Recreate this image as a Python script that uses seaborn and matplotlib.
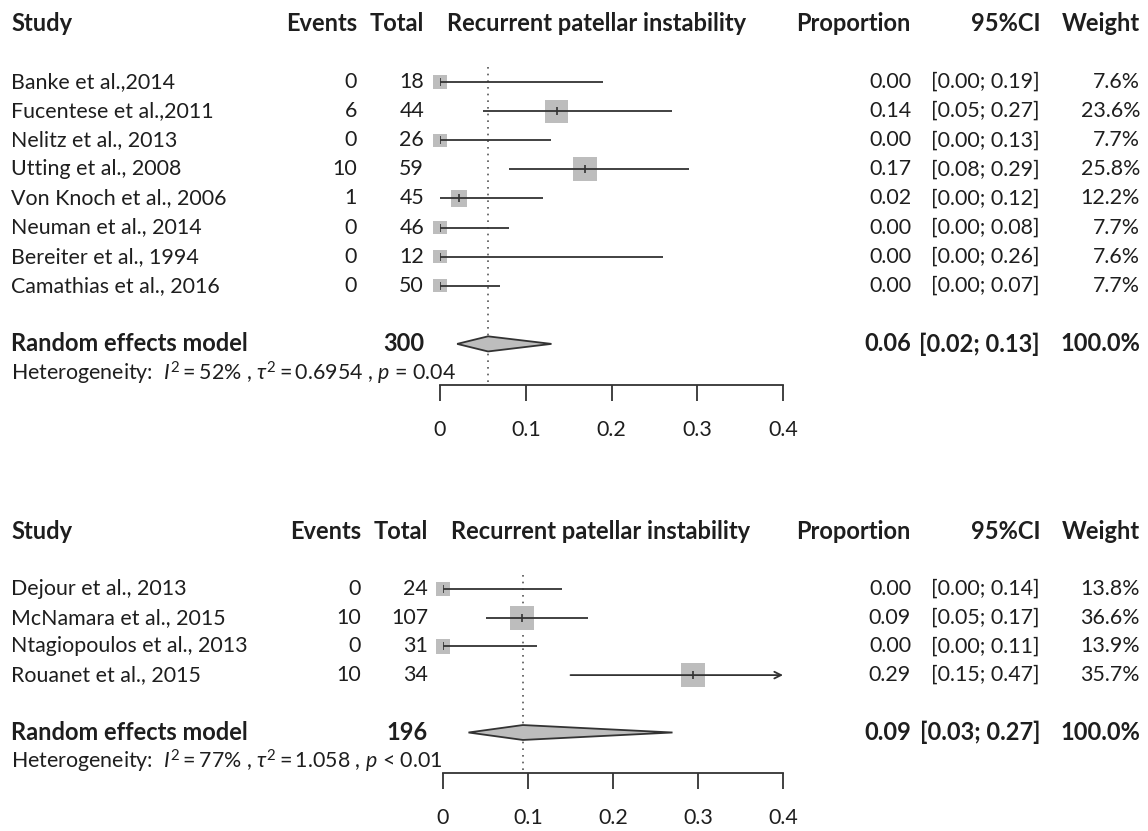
import numpy as np
import pandas as pd
import seaborn as sns
import matplotlib
matplotlib.use("Agg")
import matplotlib.pyplot as plt
from matplotlib import transforms
from matplotlib.patches import Polygon

# --- data: top panel ---
top_studies = ["Banke et al.,2014", "Fucentese et al.,2011", "Nelitz et al., 2013",
               "Utting et al., 2008", "Von Knoch et al., 2006", "Neuman et al., 2014",
               "Bereiter et al., 1994", "Camathias et al., 2016"]
top_events = [0, 6, 0, 10, 1, 0, 0, 0]
top_total = [18, 44, 26, 59, 45, 46, 12, 50]
top_prop = [0.0, 0.136, 0.0, 0.169, 0.022, 0.0, 0.0, 0.0]
top_lo = [0.00, 0.05, 0.00, 0.08, 0.00, 0.00, 0.00, 0.00]
top_hi = [0.19, 0.27, 0.13, 0.29, 0.12, 0.08, 0.26, 0.07]
top_weight = [7.6, 23.6, 7.7, 25.8, 12.2, 7.7, 7.6, 7.7]
top_pooled = [0.056, 0.02, 0.13]
top_n = 300
top_het = r"Heterogeneity:  $I^2 = 52\%$ , $\tau^2 = 0.6954$ , $p$ = 0.04"

# --- data: bottom panel ---
bot_studies = ["Dejour et al., 2013", "McNamara et al., 2015",
               "Ntagiopoulos et al., 2013", "Rouanet et al., 2015"]
bot_events = [0, 10, 0, 10]
bot_total = [24, 107, 31, 34]
bot_prop = [0.0, 0.093, 0.0, 0.294]
bot_lo = [0.00, 0.05, 0.00, 0.15]
bot_hi = [0.14, 0.17, 0.11, 0.47]
bot_weight = [13.8, 36.6, 13.9, 35.7]
bot_pooled = [0.094, 0.03, 0.27]
bot_n = 196
bot_het = r"Heterogeneity:  $I^2 = 77\%$ , $\tau^2 = 1.058$ , $p$ < 0.01"

x_ticks = [0, 0.1, 0.2, 0.3, 0.4]
x_labels = ["0", "0.1", "0.2", "0.3", "0.4"]

sns.set_style("white")
plt.rcParams['font.family'] = ['Lato', 'DejaVu Sans']
plt.rcParams['mathtext.fontset'] = 'custom'
plt.rcParams['mathtext.rm'] = 'Lato'
plt.rcParams['mathtext.it'] = 'Lato:italic'
plt.rcParams['mathtext.bf'] = 'Lato:bold'

W, H = 1148, 831
FS = 15.4
FS_BOLD = 17
TXT = "#1e1e1e"
LINE = "#333333"
BOX = "#bdbdbd"

fig = plt.figure(figsize=(W / 100, H / 100), dpi=100)


def panel(studies, events, total, prop, lo, hi, weight, pooled, n_total, het,
          x0, x1, y_first, row_px, y_top, y_bot, shift):
    n = len(studies)
    r_top = (y_top - y_first) / row_px
    r_bot = (y_bot - y_first) / row_px
    ax = fig.add_axes([x0 / W, 1 - y_bot / H, (x1 - x0) / W, (y_bot - y_top) / H])
    ax.set_xlim(0, 0.4)
    ax.set_ylim(r_bot, r_top)

    rows = np.arange(n)
    df = pd.DataFrame({"prop": prop, "row": rows, "weight": weight})

    # squares, area proportional to weight
    max_side = 24 * 72 / 100
    sns.scatterplot(data=df, x="prop", y="row", size="weight", marker="s",
                    sizes=(0, max_side ** 2), size_norm=(0, max(weight)),
                    color=BOX, linewidth=0, legend=False, ax=ax, clip_on=False,
                    zorder=2)
    # confidence intervals
    hi_clip = np.minimum(hi, 0.4)
    for r, a, b, bb in zip(rows, lo, hi_clip, hi):
        if bb > 0.4:
            ax.annotate("", xy=(b, r), xytext=(a, r),
                        arrowprops=dict(arrowstyle="->", color=LINE, lw=1.3,
                                        shrinkA=0, shrinkB=0, mutation_scale=12),
                        zorder=3)
        else:
            ax.hlines(r, a, b, color=LINE, lw=1.3, zorder=3)
    ax.plot(prop, rows, ls="none", marker="|", ms=6, mew=1.2, color=LINE, zorder=4)

    # pooled diamond
    est, plo, phi = pooled
    yr = n + 1
    h = 0.26
    ax.add_patch(Polygon([(plo, yr), (est, yr - h), (phi, yr), (est, yr + h)],
                         closed=True, facecolor=BOX, edgecolor=LINE, lw=1.3, zorder=3))
    ax.vlines(est, -0.5, n + 2.4, color="#555555", lw=1.2, linestyles=(0, (1, 3)), zorder=1)

    # axis
    for s in ["top", "left", "right"]:
        ax.spines[s].set_visible(False)
    ax.spines["bottom"].set_position(("data", n + 2.4))
    ax.spines["bottom"].set_color(LINE)
    ax.spines["bottom"].set_linewidth(1.3)
    ax.set_xticks(x_ticks)
    ax.set_xticklabels(x_labels)
    ax.set_yticks([])
    ax.tick_params(axis="x", bottom=True, direction="out", length=11.5, width=1.3,
                   color=LINE, pad=14, labelsize=FS, labelcolor=TXT)
    ax.set_xlabel("")
    ax.set_ylabel("")

    tr = transforms.blended_transform_factory(fig.transFigure, ax.transData)

    def put(xp, r, s, ha="left", bold=False):
        ax.text(xp / W, r, s, transform=tr, ha=ha, va="center",
                fontsize=FS_BOLD if bold else FS, color=TXT,
                fontweight="bold" if bold else "normal", clip_on=False)

    hr = -2
    put(11, hr, "Study", bold=True)
    put(357 + shift, hr, "Events", ha="right", bold=True)
    put(424 + shift, hr, "Total", ha="right", bold=True)
    put(447 + shift, hr, "Recurrent patellar instability", bold=True)
    put(911, hr, "Proportion", ha="right", bold=True)
    put(1040, hr, "95%CI", ha="right", bold=True)
    put(1140, hr, "Weight", ha="right", bold=True)

    for r in rows:
        put(11, r, studies[r])
        put(357 + shift, r, str(events[r]), ha="right")
        put(424 + shift, r, str(total[r]), ha="right")
        put(911, r, f"{prop[r]:.2f}", ha="right")
        put(1040, r, f"[{lo[r]:.2f}; {hi[r]:.2f}]", ha="right")
        put(1140, r, f"{weight[r]:.1f}%", ha="right")

    put(11, yr, "Random effects model", bold=True)
    put(424 + shift, yr, str(n_total), ha="right", bold=True)
    put(911, yr, f"{est:.2f}", ha="right", bold=True)
    put(1040, yr, f"[{plo:.2f}; {phi:.2f}]", ha="right", bold=True)
    put(1140, yr, "100.0%", ha="right", bold=True)
    put(11, yr + 1, het)
    return ax


panel(top_studies, top_events, top_total, top_prop, top_lo, top_hi, top_weight,
      top_pooled, top_n, top_het, 440, 783, 82, 29.1, 8, 452, 0)
panel(bot_studies, bot_events, bot_total, bot_prop, bot_lo, bot_hi, bot_weight,
      bot_pooled, bot_n, bot_het, 443, 783, 589, 28.7, 510, 831, 4)

fig.savefig("out.png", dpi=100, facecolor="white")
